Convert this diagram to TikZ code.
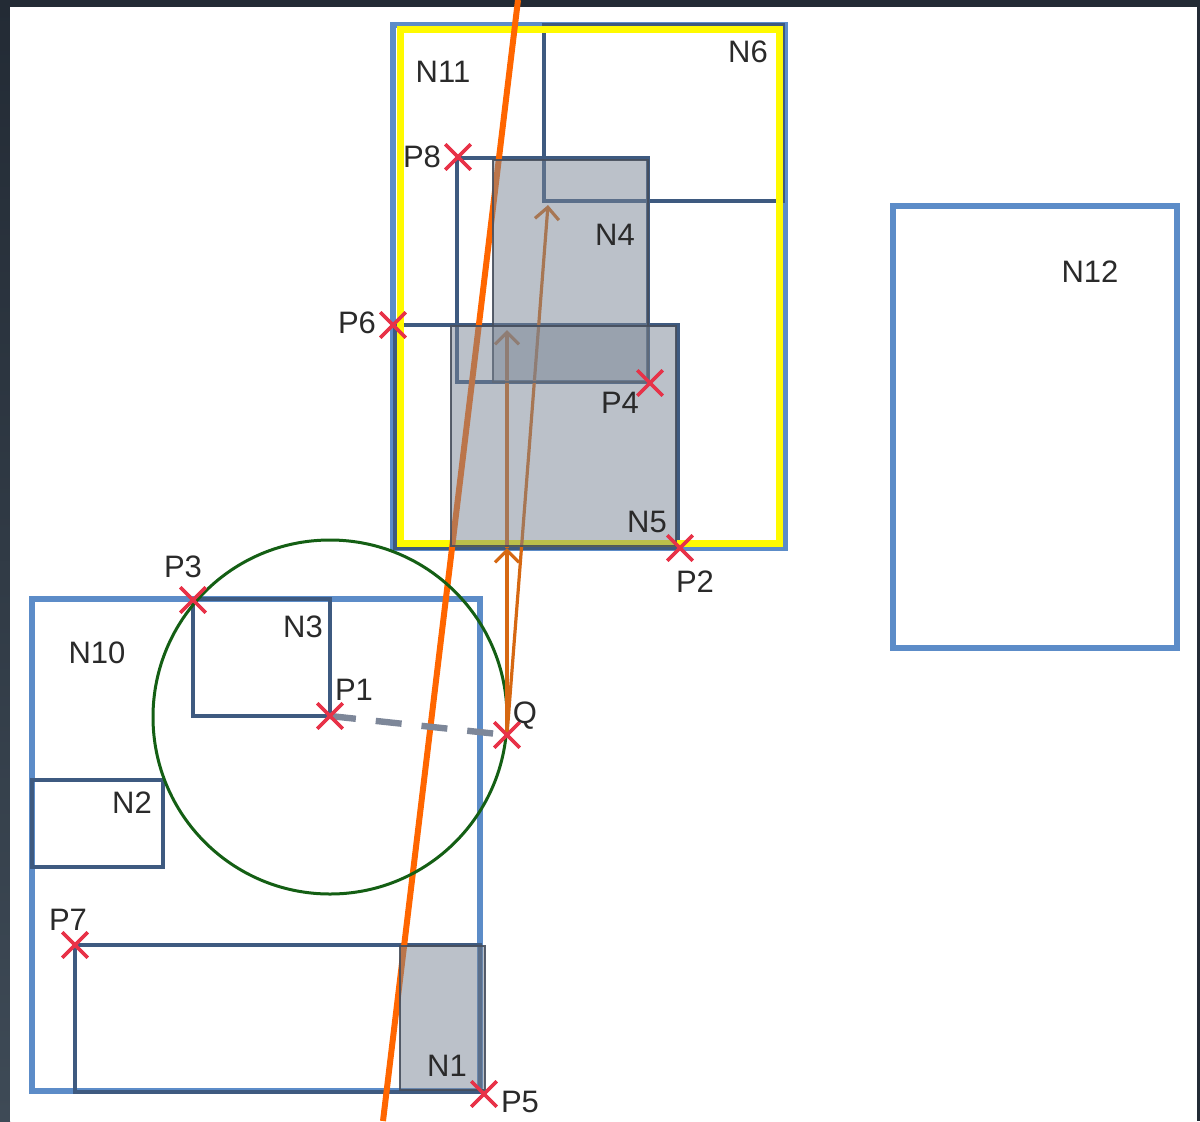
\documentclass[tikz,border=0pt]{standalone}
\usepackage{fontspec}
\setmainfont{Liberation Sans}
\usetikzlibrary{shapes.misc,arrows.meta}
\definecolor{frame}{RGB}{35,43,53}
\definecolor{frameb}{RGB}{62,74,86}
\definecolor{lblue}{RGB}{92,140,200}
\definecolor{navy}{RGB}{62,90,128}
\definecolor{boxgray}{RGB}{121,133,149}
\definecolor{boxedge}{RGB}{70,78,92}
\definecolor{yel}{RGB}{255,250,0}
\definecolor{orng}{RGB}{255,102,0}
\definecolor{arr}{RGB}{214,104,18}
\definecolor{grn}{RGB}{20,95,20}
\definecolor{dashg}{RGB}{125,135,153}
\definecolor{xred}{RGB}{232,50,72}
\definecolor{txt}{RGB}{42,42,42}
\tikzset{
  outerbox/.style={draw=lblue,line width=2.8pt},
  innerbox/.style={draw=navy,line width=1.6pt},
  shadebox/.style={fill=boxgray,fill opacity=0.5,draw=boxedge,draw opacity=0.9,line width=1.1pt},
  xmark/.style={cross out,draw=xred,line width=1.7pt,minimum size=11pt,inner sep=0pt},
  lbl/.style={text=txt,font=\fontsize{15.5}{17}\selectfont,inner sep=0pt,anchor=center},
  arrline/.style={draw=arr,line width=1.6pt,-{Straight Barb[length=6pt,width=12pt]}},
}
\begin{document}
\begin{tikzpicture}[x=0.5pt,y=-0.5pt]
\useasboundingbox (0,0) rectangle (1200,1121);
% background
\fill[frame] (0,0) rectangle (1200,1121);
\shade[top color=frame,bottom color=frameb] (0,0) rectangle (10,1121);
\fill[white] (10,7) rectangle (1197,1121);

% outer light blue boxes
\draw[outerbox] (393,25) rectangle (785,548);
\draw[outerbox] (32,599) rectangle (480,1091);
\draw[outerbox] (893,206) rectangle (1177,648);

% inner navy boxes
\draw[innerbox] (544,25) rectangle (783,201);
\draw[innerbox] (457,158) rectangle (648,382);
\draw[innerbox] (395,325) rectangle (678,548);
\draw[innerbox] (193,599) rectangle (330,716);
\draw[innerbox] (32,780) rectangle (163,867);
\draw[innerbox] (75,945) rectangle (480,1092);

% yellow box
\draw[yel,line width=3.5pt] (400,29) rectangle (779,543);

% orange line
\coordinate (Otop) at (518,0);
\coordinate (Obot) at (383,1121);
\draw[orng,line width=3pt] (Otop) -- (Obot);

% green circle
\node[circle,draw=grn,line width=1.5pt,minimum size=177pt,inner sep=0pt] (circ) at (330,717) {};

% points
\node[xmark] (P1) at (330,716) {};
\node[xmark] (Q) at (507,735) {};
\node[xmark] (P2) at (680,548) {};
\node[xmark] (P3) at (193,600) {};
\node[xmark] (P4) at (650,383) {};
\node[xmark] (P5) at (484,1094) {};
\node[xmark] (P6) at (393,325) {};
\node[xmark] (P7) at (75,945) {};
\node[xmark] (P8) at (458,157) {};

% dashed P1 -- Q
\draw[dashg,line width=3.2pt,dash pattern=on 13pt off 10pt] (P1.center) -- (Q.center);

% arrows
\coordinate (A) at (507,548);
\coordinate (B) at (507,330);
\coordinate (C) at (548,205);
\draw[arrline] (Q.center) -- (A);
\draw[arrline] (A) -- (B);
\draw[arrline] (Q.center) -- (C);

% gray shaded boxes
\draw[shadebox] (493,160) rectangle (648,382);
\draw[shadebox] (451,326) rectangle (676,546);
\draw[shadebox] (400,946) rectangle (485,1090);

% redraw crosses on top
\foreach \p in {P1,Q,P2,P3,P4,P5,P6,P7,P8}{
  \draw[xred,line width=1.7pt] (\p.north west) -- (\p.south east) (\p.north east) -- (\p.south west);
}

% labels
\node[lbl] (tN11) at (443,72) {N11};
\node[lbl] (tN6) at (748,52) {N6};
\node[lbl] (tN4) at (615,235) {N4};
\node[lbl] (tN12) at (1090,272) {N12};
\node[lbl] (tP8) at (422,157) {P8};
\node[lbl] (tP6) at (357,323) {P6};
\node[lbl] (tP4) at (620,403) {P4};
\node[lbl] (tN5) at (647,522) {N5};
\node[lbl] (tP2) at (695,582) {P2};
\node[lbl] (tP3) at (183,567) {P3};
\node[lbl] (tN3) at (303,627) {N3};
\node[lbl] (tN10) at (97,653) {N10};
\node[lbl] (tP1) at (354,690) {P1};
\node[lbl] (tQ) at (525,716) {Q};
\node[lbl] (tN2) at (132,803) {N2};
\node[lbl] (tP7) at (68,920) {P7};
\node[lbl] (tN1) at (447,1066) {N1};
\node[lbl] (tP5) at (520,1102) {P5};
\end{tikzpicture}
\end{document}
